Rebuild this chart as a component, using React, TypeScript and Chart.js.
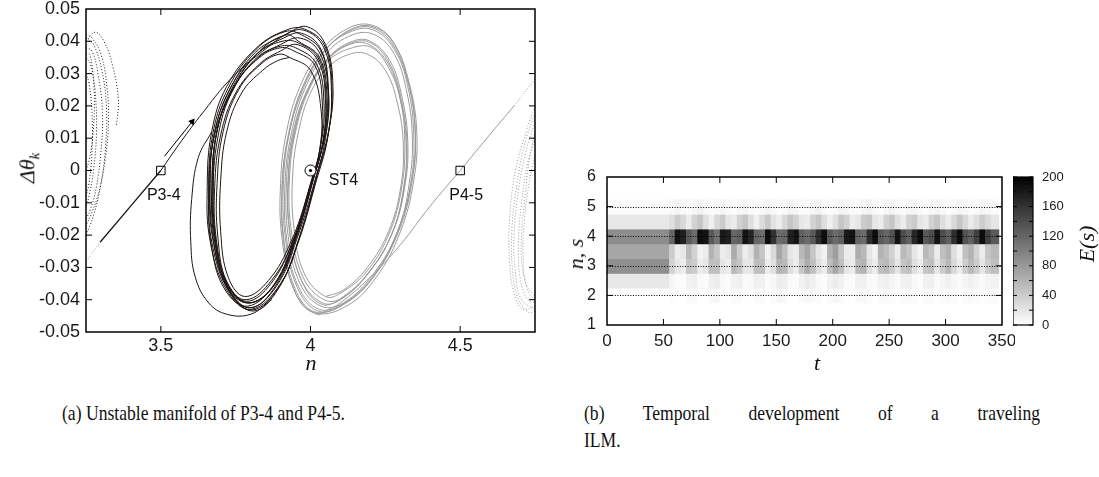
import React, { useEffect, useRef } from 'react';
import { Chart, registerables } from 'chart.js';
Chart.register(...registerables);

type P = [number, number];

// ---------- (a) phase portrait data ----------
const nTickValues = [3.5, 4, 4.5];
const dthetaTickValues = [-0.05, -0.04, -0.03, -0.02, -0.01, 0, 0.01, 0.02, 0.03, 0.04, 0.05];

const blackOutgoing: P[] = [[3.5, 0], [3.56, 0.008], [3.63, 0.0167], [3.74, 0.029], [3.855, 0.038], [3.93, 0.0428]];
const blackLoopA: P[] = [[3.99, 0.0445], [4.05, 0.039], [4.075, 0.026], [4.06, 0.012], [4.025, 0.0], [3.965, -0.02], [3.9, -0.035], [3.8, -0.043], [3.72, -0.037], [3.665, -0.022], [3.655, -0.005], [3.67, 0.012], [3.72, 0.026], [3.82, 0.038], [3.92, 0.0435]];
const blackLoopB: P[] = [[3.97, 0.042], [4.035, 0.037], [4.06, 0.025], [4.05, 0.011], [4.015, 0.0], [3.955, -0.019], [3.89, -0.034], [3.8, -0.041], [3.73, -0.036], [3.68, -0.022], [3.67, -0.005], [3.685, 0.011], [3.73, 0.024], [3.82, 0.036], [3.91, 0.041]];
const blackLoopC: P[] = [[3.96, 0.04], [4.03, 0.035], [4.055, 0.023], [4.045, 0.01], [4.01, -0.002], [3.95, -0.02], [3.88, -0.035], [3.79, -0.042], [3.715, -0.037], [3.67, -0.024], [3.66, -0.008], [3.675, 0.009], [3.725, 0.022], [3.81, 0.034], [3.9, 0.039]];
const blackLoopD: P[] = [[3.95, 0.038], [4.02, 0.033], [4.045, 0.021], [4.035, 0.008], [4.0, -0.004], [3.945, -0.021], [3.87, -0.034], [3.785, -0.04], [3.72, -0.035], [3.685, -0.021], [3.68, -0.005], [3.7, 0.011], [3.75, 0.024], [3.83, 0.033], [3.9, 0.037]];
const blackLoopE: P[] = [[3.93, 0.035], [4.0, 0.031], [4.035, 0.019], [4.03, 0.006], [3.995, -0.006], [3.935, -0.022], [3.86, -0.034], [3.78, -0.039], [3.725, -0.033], [3.7, -0.019], [3.7, -0.003], [3.72, 0.012], [3.77, 0.024], [3.84, 0.031], [3.89, 0.034], [3.93, 0.035]];
const blackLoopF: P[] = [[3.975, 0.0435], [4.045, 0.038], [4.07, 0.024], [4.055, 0.009], [4.02, -0.003], [3.96, -0.022], [3.89, -0.037], [3.81, -0.0435], [3.735, -0.038], [3.69, -0.025], [3.675, -0.008], [3.69, 0.01], [3.74, 0.025], [3.83, 0.037], [3.92, 0.042]];
const blackLoopG: P[] = [[3.965, 0.041], [4.03, 0.0365], [4.06, 0.024], [4.05, 0.01], [4.015, -0.003], [3.955, -0.021], [3.885, -0.036], [3.795, -0.0425], [3.72, -0.036], [3.675, -0.021], [3.665, -0.004], [3.68, 0.012], [3.735, 0.026], [3.82, 0.036], [3.905, 0.04]];
const blackLoopH: P[] = [[3.955, 0.039], [4.025, 0.034], [4.05, 0.022], [4.04, 0.008], [4.005, -0.004], [3.945, -0.022], [3.875, -0.036], [3.79, -0.041], [3.72, -0.035], [3.68, -0.02], [3.675, -0.003], [3.69, 0.013], [3.745, 0.026], [3.83, 0.035], [3.9, 0.038]];
const blackLoopI: P[] = [[3.97, 0.0425], [4.035, 0.0375], [4.058, 0.025], [4.047, 0.011], [4.012, -0.002], [3.952, -0.021], [3.885, -0.0355], [3.8, -0.0425], [3.725, -0.0365], [3.675, -0.022], [3.663, -0.006], [3.678, 0.011], [3.73, 0.025], [3.815, 0.0365], [3.905, 0.0415]];
const blackLoopJ: P[] = [[3.945, 0.037], [4.015, 0.0325], [4.04, 0.02], [4.032, 0.007], [3.998, -0.005], [3.94, -0.022], [3.868, -0.035], [3.785, -0.0405], [3.72, -0.0345], [3.69, -0.02], [3.688, -0.004], [3.708, 0.012], [3.76, 0.025], [3.835, 0.033], [3.895, 0.036]];
const blackLoopK: P[] = [[3.98, 0.0438], [4.048, 0.0385], [4.072, 0.025], [4.058, 0.0105], [4.022, -0.0015], [3.962, -0.021], [3.895, -0.036], [3.805, -0.0432], [3.728, -0.0375], [3.672, -0.023], [3.66, -0.007], [3.673, 0.011], [3.725, 0.0255], [3.818, 0.0375], [3.915, 0.043]];
const blackLoopL: P[] = [[3.96, 0.0395], [4.028, 0.0345], [4.052, 0.0225], [4.042, 0.009], [4.008, -0.003], [3.948, -0.0215], [3.878, -0.0355], [3.79, -0.041], [3.718, -0.0355], [3.68, -0.021], [3.672, -0.004], [3.688, 0.0125], [3.742, 0.0255], [3.826, 0.035], [3.9, 0.0385]];
const blackInnerBranch: P[] = [[3.67, 0.012], [3.625, 0.004], [3.603, -0.009], [3.6, -0.022], [3.615, -0.033], [3.66, -0.041], [3.72, -0.0445], [3.8, -0.0445], [3.87, -0.04]];
const blackIncoming: P[] = [[3.297, -0.0222], [3.5, 0]];
const grayLowTail: P[] = [[3.25, -0.0282], [3.297, -0.0222]];

const grayOutgoingDown: P[] = [[4.5, 0], [4.4, -0.011], [4.3, -0.023], [4.2, -0.033], [4.1, -0.041], [4.06, -0.043]];
const grayLoop1: P[] = [[4.02, -0.0445], [3.95, -0.038], [3.91, -0.022], [3.905, -0.005], [3.925, 0.01], [3.97, 0.024], [4.04, 0.036], [4.13, 0.0435], [4.21, 0.0445], [4.28, 0.039], [4.33, 0.027], [4.355, 0.012], [4.345, -0.003], [4.3, -0.019], [4.22, -0.033], [4.12, -0.042]];
const grayLoop2: P[] = [[4.03, -0.043], [3.96, -0.036], [3.92, -0.021], [3.915, -0.004], [3.935, 0.011], [3.98, 0.025], [4.05, 0.036], [4.14, 0.042], [4.215, 0.042], [4.28, 0.036], [4.32, 0.025], [4.34, 0.011], [4.33, -0.004], [4.29, -0.019], [4.21, -0.032], [4.11, -0.041]];
const grayLoop3: P[] = [[4.04, -0.041], [3.97, -0.034], [3.93, -0.019], [3.925, -0.003], [3.945, 0.012], [3.99, 0.025], [4.06, 0.035], [4.14, 0.04], [4.2, 0.04], [4.265, 0.034], [4.305, 0.023], [4.325, 0.009], [4.315, -0.005], [4.275, -0.019], [4.2, -0.031], [4.11, -0.039]];
const grayLoop4: P[] = [[4.05, -0.039], [3.98, -0.032], [3.945, -0.018], [3.94, -0.002], [3.96, 0.012], [4.0, 0.024], [4.06, 0.032], [4.13, 0.036], [4.19, 0.036], [4.25, 0.031], [4.29, 0.021], [4.31, 0.008], [4.3, -0.006], [4.26, -0.019], [4.19, -0.03], [4.11, -0.037], [4.05, -0.039]];
const grayLoop5: P[] = [[4.01, -0.044], [3.945, -0.037], [3.905, -0.021], [3.9, -0.004], [3.92, 0.012], [3.965, 0.026], [4.035, 0.037], [4.125, 0.044], [4.205, 0.045], [4.275, 0.04], [4.325, 0.028], [4.35, 0.013], [4.34, -0.002], [4.295, -0.018], [4.215, -0.032], [4.115, -0.041]];
const grayLoop6: P[] = [[4.035, -0.042], [3.965, -0.035], [3.925, -0.02], [3.92, -0.003], [3.94, 0.011], [3.985, 0.024], [4.055, 0.034], [4.13, 0.039], [4.195, 0.039], [4.26, 0.033], [4.3, 0.022], [4.32, 0.008], [4.31, -0.006], [4.27, -0.02], [4.19, -0.032], [4.1, -0.04]];
const grayLoop7: P[] = [[4.025, -0.0435], [3.955, -0.036], [3.915, -0.02], [3.91, -0.003], [3.93, 0.012], [3.975, 0.026], [4.045, 0.037], [4.135, 0.043], [4.21, 0.0435], [4.28, 0.0375], [4.325, 0.026], [4.345, 0.011], [4.335, -0.004], [4.29, -0.019], [4.21, -0.033], [4.115, -0.041]];
const grayLoop8: P[] = [[4.045, -0.04], [3.975, -0.033], [3.935, -0.018], [3.93, -0.002], [3.95, 0.012], [3.995, 0.025], [4.06, 0.034], [4.14, 0.038], [4.205, 0.038], [4.26, 0.032], [4.3, 0.022], [4.315, 0.009], [4.305, -0.005], [4.265, -0.019], [4.19, -0.031], [4.1, -0.038]];
const grayLoop9: P[] = [[4.015, -0.0438], [3.948, -0.0365], [3.91, -0.0205], [3.906, -0.0035], [3.927, 0.0115], [3.972, 0.0255], [4.042, 0.0365], [4.13, 0.0432], [4.207, 0.0442], [4.278, 0.0385], [4.328, 0.0265], [4.35, 0.0115], [4.34, -0.003], [4.296, -0.0185], [4.214, -0.0325], [4.116, -0.0412]];
const grayLoop10: P[] = [[4.04, -0.0415], [3.972, -0.0345], [3.932, -0.0195], [3.926, -0.003], [3.946, 0.0115], [3.99, 0.0245], [4.058, 0.0345], [4.138, 0.0395], [4.202, 0.0395], [4.262, 0.0335], [4.302, 0.0225], [4.322, 0.0085], [4.312, -0.0055], [4.272, -0.0195], [4.196, -0.0315], [4.106, -0.0395]];
const grayOutgoingUp: P[] = [[4.5, 0], [4.6, 0.0112], [4.68, 0.02]];
const grayUpTail: P[] = [[4.68, 0.02], [4.75, 0.0283]];

const leftDotted1: P[] = [[3.25, 0.04], [3.28, 0.0428], [3.31, 0.04], [3.34, 0.032], [3.358, 0.022], [3.352, 0.014]];
const leftDotted2: P[] = [[3.25, 0.042], [3.27, 0.041], [3.3, 0.036], [3.32, 0.026], [3.325, 0.015], [3.315, 0.004], [3.295, -0.006], [3.27, -0.013], [3.25, -0.017]];
const leftDotted3: P[] = [[3.25, 0.038], [3.27, 0.037], [3.29, 0.03], [3.305, 0.018], [3.3, 0.006], [3.285, -0.005], [3.265, -0.012], [3.25, -0.015]];
const leftDotted4: P[] = [[3.25, 0.035], [3.265, 0.033], [3.28, 0.025], [3.285, 0.012], [3.275, 0.0], [3.26, -0.008], [3.25, -0.011]];
const leftDotted5: P[] = [[3.25, 0.03], [3.26, 0.027], [3.27, 0.018], [3.27, 0.006], [3.26, -0.004], [3.25, -0.008]];
const leftDotted6: P[] = [[3.25, 0.041], [3.275, 0.039], [3.303, 0.031], [3.318, 0.02], [3.316, 0.008], [3.3, -0.004], [3.275, -0.014], [3.25, -0.02]];
const leftDotted7: P[] = [[3.25, 0.036], [3.262, 0.036], [3.273, 0.03], [3.278, 0.02], [3.272, 0.01], [3.26, 0.003], [3.25, 0.0]];

const rightDotted1: P[] = [[4.75, 0.02], [4.72, 0.012], [4.685, 0.0], [4.665, -0.015], [4.665, -0.028], [4.68, -0.038], [4.71, -0.043], [4.75, -0.042]];
const rightDotted2: P[] = [[4.75, 0.015], [4.72, 0.006], [4.695, -0.006], [4.68, -0.02], [4.685, -0.032], [4.705, -0.04], [4.75, -0.043]];
const rightDotted3: P[] = [[4.75, 0.01], [4.725, 0.002], [4.705, -0.01], [4.695, -0.022], [4.7, -0.033], [4.725, -0.04], [4.75, -0.041]];
const rightDotted4: P[] = [[4.75, 0.005], [4.73, -0.004], [4.715, -0.015], [4.71, -0.026], [4.72, -0.035], [4.75, -0.039]];
const rightDotted5: P[] = [[4.75, 0.018], [4.715, 0.008], [4.69, -0.004], [4.673, -0.018], [4.675, -0.031], [4.695, -0.04], [4.73, -0.044], [4.75, -0.0435]];
const rightDotted6: P[] = [[4.75, 0.012], [4.732, 0.004], [4.718, -0.007], [4.705, -0.02], [4.708, -0.03], [4.73, -0.038], [4.75, -0.04]];

const fixedPoints: P[] = [[3.5, 0], [4.5, 0]]; // P3-4, P4-5
const stablePoint: P[] = [[4.0, 0]]; // ST4
const arrowShaft: P[] = [[3.512, 0.0044], [3.6045, 0.0151]];
const pointLabels = ['P3-4', 'ST4', 'P4-5'];

// ---------- (b) heat map data ----------
const tTickValues = [0, 50, 100, 150, 200, 250, 300, 350];
const sTickValues = [1, 2, 3, 4, 5, 6];
const sGridLines = [2, 3, 4, 5];
const cbTickValues = [0, 40, 80, 120, 160, 200];
const cbMinorTicks = [0, 20, 40, 60, 80, 100, 120, 140, 160, 180, 200];
const tStarts = [0, 55, 60, 65, 70, 75, 80, 85, 90, 95, 100, 105, 110, 115, 120, 125, 130, 135, 140, 145, 150, 155, 160, 165, 170, 175, 180, 185, 190, 195, 200, 205, 210, 215, 220, 225, 230, 235, 240, 245, 250, 255, 260, 265, 270, 275, 280, 285, 290, 295, 300, 305, 310, 315, 320, 325, 330, 335, 340];
const tEnd = 347;
const sRows = [2, 2.5, 3, 3.5, 4, 4.5, 5];
const energyS2 = [0, 2, 1, 0, 4, 5, 1, 0, 5, 6, 1, 0, 4, 5, 1, 1, 5, 4, 0, 2, 6, 5, 1, 0, 4, 6, 5, 2, 0, 4, 6, 4, 1, 0, 5, 5, 2, 0, 4, 5, 3, 1, 4, 5, 2, 0, 4, 5, 1, 3, 5, 2, 0, 3, 5, 3, 1, 3, 4];
const energyS25 = [18, 8, 3, 2, 10, 12, 4, 3, 12, 14, 5, 3, 10, 12, 4, 5, 12, 10, 3, 6, 14, 12, 5, 3, 10, 15, 12, 5, 3, 10, 14, 10, 4, 3, 12, 12, 5, 3, 10, 12, 8, 4, 10, 12, 5, 3, 10, 12, 4, 8, 12, 6, 3, 8, 12, 8, 4, 8, 10];
const energyS3 = [88, 35, 20, 15, 45, 40, 15, 20, 50, 50, 20, 15, 55, 45, 20, 20, 50, 50, 15, 25, 60, 55, 25, 15, 45, 65, 50, 25, 15, 50, 70, 50, 20, 15, 55, 60, 25, 15, 50, 55, 40, 20, 45, 50, 25, 15, 45, 50, 20, 40, 55, 30, 15, 40, 55, 40, 20, 40, 50];
const energyS35 = [70, 40, 15, 20, 55, 35, 10, 15, 60, 45, 15, 20, 65, 40, 15, 25, 60, 45, 10, 30, 70, 50, 20, 15, 55, 70, 45, 20, 10, 60, 75, 45, 15, 15, 65, 55, 20, 10, 60, 50, 35, 15, 55, 45, 20, 10, 55, 45, 15, 50, 60, 25, 10, 50, 60, 35, 15, 45, 55];
const energyS4 = [90, 120, 185, 175, 130, 115, 190, 185, 130, 110, 180, 175, 120, 125, 185, 170, 120, 115, 190, 160, 115, 120, 175, 185, 125, 115, 130, 165, 190, 130, 115, 125, 180, 185, 120, 115, 165, 190, 130, 120, 135, 185, 140, 125, 170, 190, 130, 140, 185, 140, 125, 165, 190, 135, 125, 150, 190, 150, 130];
const energyS45 = [18, 25, 40, 30, 15, 35, 45, 25, 12, 30, 40, 20, 15, 35, 45, 25, 12, 28, 42, 22, 15, 30, 45, 35, 18, 15, 35, 45, 25, 12, 25, 45, 35, 15, 20, 40, 45, 20, 15, 35, 45, 25, 15, 35, 40, 20, 15, 35, 45, 25, 15, 30, 45, 30, 15, 25, 40, 30, 20];
const energyS5 = [2, 4, 8, 5, 3, 6, 10, 5, 2, 5, 8, 4, 2, 6, 9, 4, 2, 5, 9, 5, 2, 5, 10, 7, 3, 3, 7, 10, 5, 2, 4, 9, 7, 2, 3, 8, 10, 4, 2, 6, 9, 5, 2, 6, 8, 4, 2, 6, 9, 5, 2, 5, 9, 6, 2, 4, 8, 6, 3];
const energyMax = 200;

// ---------- styling ----------
const TICK_FONT = "'Liberation Sans', Arial, sans-serif";
const BLACK = '#1c1412';
const GRAY = '#9b9b9b';

const xy = (pts: P[]) => pts.map(([x, y]) => ({ x, y }));
const lineDs = (pts: P[], color: string, width = 1, dash: number[] = []) => ({
  data: xy(pts), showLine: true, borderColor: color, borderWidth: width, borderDash: dash,
  pointRadius: 0, pointHoverRadius: 0, tension: 0.4, fill: false,
});

function zeroPad(s: any) { s.paddingTop = 0; s.paddingBottom = 0; s.paddingLeft = 0; s.paddingRight = 0; }

function drawFrame(chart: any, lw: number, tickLen: number, xVals: number[], yVals: number[]) {
  const { ctx, chartArea: a, scales } = chart;
  ctx.save();
  ctx.strokeStyle = '#000';
  ctx.lineWidth = 1;
  ctx.beginPath();
  for (const v of xVals) {
    const px = scales.x.getPixelForValue(v);
    ctx.moveTo(px, a.bottom); ctx.lineTo(px, a.bottom - tickLen);
    ctx.moveTo(px, a.top); ctx.lineTo(px, a.top + tickLen);
  }
  for (const v of yVals) {
    const py = scales.y.getPixelForValue(v);
    ctx.moveTo(a.left, py); ctx.lineTo(a.left + tickLen, py);
    ctx.moveTo(a.right, py); ctx.lineTo(a.right - tickLen, py);
  }
  ctx.stroke();
  ctx.lineWidth = lw;
  ctx.strokeRect(a.left, a.top, a.right - a.left, a.bottom - a.top);
  ctx.restore();
}

const leftDecor = {
  id: 'leftDecor',
  afterDatasetsDraw(chart: any) {
    drawFrame(chart, 1.5, 6, nTickValues, dthetaTickValues.slice(1, -1));
    const { ctx, scales } = chart;
    const anchors: P[] = [fixedPoints[0], stablePoint[0], fixedPoints[1]];
    const offs: P[] = [[3, 25], [33, 10], [6, 25]];
    ctx.save();
    ctx.fillStyle = '#111';
    ctx.font = `16px ${TICK_FONT}`;
    ctx.textAlign = 'center';
    ctx.textBaseline = 'middle';
    pointLabels.forEach((t, i) => {
      const px = scales.x.getPixelForValue(anchors[i][0]) + offs[i][0];
      const py = scales.y.getPixelForValue(anchors[i][1]) + offs[i][1];
      ctx.fillText(t, px, py);
    });
    ctx.restore();
  },
};

const heatPlugin = {
  id: 'heat',
  beforeDatasetsDraw(chart: any) {
    const { ctx, chartArea: a, scales: { x, y } } = chart;
    const rows = [energyS2, energyS25, energyS3, energyS35, energyS4, energyS45, energyS5];
    ctx.save();
    ctx.beginPath();
    ctx.rect(a.left, a.top, a.right - a.left, a.bottom - a.top);
    ctx.clip();
    rows.forEach((vals, r) => {
      const s = sRows[r];
      const y0 = y.getPixelForValue(s + 0.25);
      const y1 = y.getPixelForValue(s - 0.25);
      vals.forEach((v, i) => {
        const x0 = x.getPixelForValue(tStarts[i]);
        const x1 = x.getPixelForValue(i + 1 < tStarts.length ? tStarts[i + 1] : tEnd);
        const g = Math.round(255 * (1 - Math.min(energyMax, v) / energyMax));
        ctx.fillStyle = `rgb(${g},${g},${g})`;
        ctx.fillRect(x0, y0, x1 - x0 + 0.6, y1 - y0 + 0.6);
      });
    });
    ctx.strokeStyle = '#000';
    ctx.lineWidth = 1;
    ctx.setLineDash([1, 1.6]);
    ctx.beginPath();
    for (const s of sGridLines) {
      const py = Math.round(y.getPixelForValue(s)) + 0.5;
      ctx.moveTo(a.left, py); ctx.lineTo(a.right, py);
    }
    ctx.stroke();
    ctx.restore();
  },
  afterDatasetsDraw(chart: any) {
    drawFrame(chart, 1.5, 6, tTickValues.slice(1, -1), sGridLines);
  },
};

const colorbarPlugin = {
  id: 'cbar',
  beforeDatasetsDraw(chart: any) {
    const { ctx, chartArea: a, scales: { y } } = chart;
    const yTop = y.getPixelForValue(energyMax);
    const yBot = y.getPixelForValue(0);
    const grad = ctx.createLinearGradient(0, yBot, 0, yTop);
    grad.addColorStop(0, '#ffffff');
    grad.addColorStop(1, '#000000');
    ctx.save();
    ctx.fillStyle = grad;
    ctx.fillRect(a.left, yTop, a.right - a.left, yBot - yTop);
    ctx.strokeStyle = '#000';
    ctx.lineWidth = 1;
    ctx.beginPath();
    for (const v of cbMinorTicks) {
      const py = y.getPixelForValue(v);
      ctx.moveTo(a.left, py); ctx.lineTo(a.left + 4, py);
      ctx.moveTo(a.right, py); ctx.lineTo(a.right - 4, py);
    }
    ctx.stroke();
    ctx.lineWidth = 1.2;
    ctx.strokeRect(a.left, a.top, a.right - a.left, a.bottom - a.top);
    ctx.restore();
  },
};

const italicTitle: React.CSSProperties = {
  position: 'absolute', fontFamily: "'Liberation Serif', 'DejaVu Serif', serif", fontStyle: 'italic',
  fontSize: 22, lineHeight: '24px', whiteSpace: 'nowrap', transform: 'translate(-50%, -50%)', color: '#111',
};
const rotTitle = (x: number, y: number): React.CSSProperties => ({
  ...italicTitle, left: x, top: y, transform: 'translate(-50%, -50%) rotate(-90deg)',
});
const captionStyle: React.CSSProperties = {
  position: 'absolute', fontFamily: "'Liberation Serif', serif", fontSize: 22, lineHeight: '24px',
  whiteSpace: 'nowrap', color: '#111', transform: 'scaleX(0.8)', transformOrigin: 'left top',
};

export default function App() {
  const leftRef = useRef<HTMLCanvasElement>(null);
  const heatRef = useRef<HTMLCanvasElement>(null);
  const barRef = useRef<HTMLCanvasElement>(null);

  useEffect(() => {
    const tickFont = (size: number) => ({ family: TICK_FONT, size });
    const noGrid = { display: false, drawTicks: false };
    const blackTrajectory: P[] = [
      ...blackOutgoing, ...blackLoopA, ...blackLoopK, ...blackLoopB, ...blackLoopI, ...blackLoopF, ...blackLoopC,
      ...blackLoopG, ...blackLoopL, ...blackLoopD, ...blackLoopH, ...blackLoopJ, ...blackLoopE,
    ];
    const grayTrajectory: P[] = [
      ...grayOutgoingDown, ...grayLoop1, ...grayLoop5, ...grayLoop9, ...grayLoop7, ...grayLoop2,
      ...grayLoop6, ...grayLoop3, ...grayLoop10, ...grayLoop8, ...grayLoop4,
    ];
    const left = new Chart(leftRef.current!, {
      type: 'scatter',
      data: {
        datasets: [
          { data: xy(fixedPoints), showLine: false, pointStyle: 'rect', pointRadius: 6, pointHoverRadius: 6, borderColor: '#000', backgroundColor: 'rgba(0,0,0,0)', borderWidth: 1 },
          { data: xy(stablePoint), showLine: false, pointStyle: 'circle', pointRadius: 1.6, pointHoverRadius: 1.6, borderColor: '#000', backgroundColor: '#000', borderWidth: 0 },
          { data: xy(stablePoint), showLine: false, pointStyle: 'circle', pointRadius: 5.5, pointHoverRadius: 5.5, borderColor: '#000', backgroundColor: '#fff', borderWidth: 1 },
          { ...lineDs(arrowShaft, '#000', 1), tension: 0 },
          { data: xy([arrowShaft[1]]), showLine: false, pointStyle: 'triangle', pointRadius: 4, pointHoverRadius: 4, rotation: 39, borderColor: '#000', backgroundColor: '#000', borderWidth: 0 },
          lineDs(blackIncoming, BLACK, 1.3),
          lineDs(blackTrajectory, BLACK, 1),
          lineDs(blackInnerBranch, BLACK, 1),
          lineDs(leftDotted1, '#222', 1, [1, 2]),
          lineDs(leftDotted2, '#222', 1, [1, 2]),
          lineDs(leftDotted3, '#222', 1, [1, 2]),
          lineDs(leftDotted4, '#222', 1, [1, 2]),
          lineDs(leftDotted5, '#222', 1, [1, 2]),
          lineDs(leftDotted6, '#222', 1, [1, 2]),
          lineDs(leftDotted7, '#222', 1, [1, 2]),
          lineDs(grayLowTail, GRAY, 1, [1, 2]),
          lineDs(grayOutgoingUp, GRAY, 1),
          lineDs(grayUpTail, GRAY, 1, [1, 2]),
          lineDs(grayTrajectory, GRAY, 1),
          lineDs(rightDotted1, GRAY, 1, [1, 2]),
          lineDs(rightDotted2, GRAY, 1, [1, 2]),
          lineDs(rightDotted3, GRAY, 1, [1, 2]),
          lineDs(rightDotted4, GRAY, 1, [1, 2]),
          lineDs(rightDotted5, GRAY, 1, [1, 2]),
          lineDs(rightDotted6, GRAY, 1, [1, 2]),
        ] as any,
      },
      options: {
        responsive: false,
        animation: false,
        events: [],
        layout: { padding: { top: 9, right: 25, left: 0, bottom: 0 } },
        plugins: { legend: { display: false }, tooltip: { enabled: false } },
        scales: {
          x: {
            type: 'linear', min: 3.25, max: 4.75,
            afterBuildTicks: (s: any) => { s.ticks = nTickValues.map((value) => ({ value })); },
            afterFit: (s: any) => { s.height = 48; zeroPad(s); },
            grid: noGrid, border: { display: false },
            ticks: { font: tickFont(18), color: '#1a1a1a', padding: 3, maxRotation: 0, autoSkip: false, callback: (v: any) => String(v) },
          },
          y: {
            type: 'linear', min: -0.05, max: 0.05,
            afterBuildTicks: (s: any) => { s.ticks = dthetaTickValues.map((value) => ({ value })); },
            afterFit: (s: any) => { s.width = 86; zeroPad(s); },
            grid: noGrid, border: { display: false },
            ticks: { font: tickFont(18), color: '#1a1a1a', padding: 6, autoSkip: false, callback: (v: any) => (Math.abs(v) < 1e-9 ? '0' : Number(v).toFixed(2)) },
          },
        },
      } as any,
      plugins: [leftDecor],
    });

    const heat = new Chart(heatRef.current!, {
      type: 'scatter',
      data: { datasets: [{ data: [] }] },
      options: {
        responsive: false,
        animation: false,
        events: [],
        layout: { padding: { top: 27, right: 13, left: 0, bottom: 0 } },
        plugins: { legend: { display: false }, tooltip: { enabled: false } },
        scales: {
          x: {
            type: 'linear', min: 0, max: 350,
            afterBuildTicks: (s: any) => { s.ticks = tTickValues.map((value) => ({ value })); },
            afterFit: (s: any) => { s.height = 55; zeroPad(s); },
            grid: noGrid, border: { display: false },
            ticks: { font: tickFont(17), color: '#1a1a1a', padding: 6, maxRotation: 0, autoSkip: false },
          },
          y: {
            type: 'linear', min: 1, max: 6,
            afterBuildTicks: (s: any) => { s.ticks = sTickValues.map((value) => ({ value })); },
            afterFit: (s: any) => { s.width = 52; zeroPad(s); },
            grid: noGrid, border: { display: false },
            ticks: { font: tickFont(16), color: '#1a1a1a', padding: 11, autoSkip: false },
          },
        },
      } as any,
      plugins: [heatPlugin],
    });

    const bar = new Chart(barRef.current!, {
      type: 'scatter',
      data: { datasets: [{ data: [] }] },
      options: {
        responsive: false,
        animation: false,
        events: [],
        layout: { padding: { top: 7, right: 0, left: 0, bottom: 10 } },
        plugins: { legend: { display: false }, tooltip: { enabled: false } },
        scales: {
          x: { display: false, min: 0, max: 1 },
          y: {
            type: 'linear', position: 'right', min: 0, max: energyMax,
            afterBuildTicks: (s: any) => { s.ticks = cbTickValues.map((value) => ({ value })); },
            afterFit: (s: any) => { s.width = 40; zeroPad(s); },
            grid: noGrid, border: { display: false },
            ticks: { font: tickFont(13), color: '#1a1a1a', padding: 9, autoSkip: false },
          },
        },
      } as any,
      plugins: [colorbarPlugin],
    });

    return () => { left.destroy(); heat.destroy(); bar.destroy(); };
  }, []);

  return (
    <div style={{ position: 'absolute', left: 0, top: 0, width: 1099, height: 477, background: '#fff', overflow: 'hidden' }}>
      <canvas ref={leftRef} width={560} height={380} style={{ position: 'absolute', left: 0, top: 0, width: 560, height: 380 }} />
      <canvas ref={heatRef} width={460} height={230} style={{ position: 'absolute', left: 555, top: 150, width: 460, height: 230 }} />
      <canvas ref={barRef} width={60} height={165} style={{ position: 'absolute', left: 1013, top: 170, width: 60, height: 165 }} />
      <div style={rotTitle(31, 168)}>Δθ<sub style={{ fontSize: 15 }}>k</sub></div>
      <div style={{ ...italicTitle, left: 311, top: 363 }}>n</div>
      <div style={rotTitle(576, 254)}>n, s</div>
      <div style={{ ...italicTitle, left: 817, top: 363 }}>t</div>
      <div style={rotTitle(1087, 244)}>E(s)</div>
      <div style={{ ...captionStyle, left: 62, top: 401 }}>(a) Unstable manifold of P3-4 and P4-5.</div>
      <div style={{ ...captionStyle, left: 584, top: 401, width: 570, textAlign: 'justify', textAlignLast: 'justify' as any }}>(b) Temporal development of a traveling</div>
      <div style={{ ...captionStyle, left: 584, top: 428 }}>ILM.</div>
    </div>
  );
}
